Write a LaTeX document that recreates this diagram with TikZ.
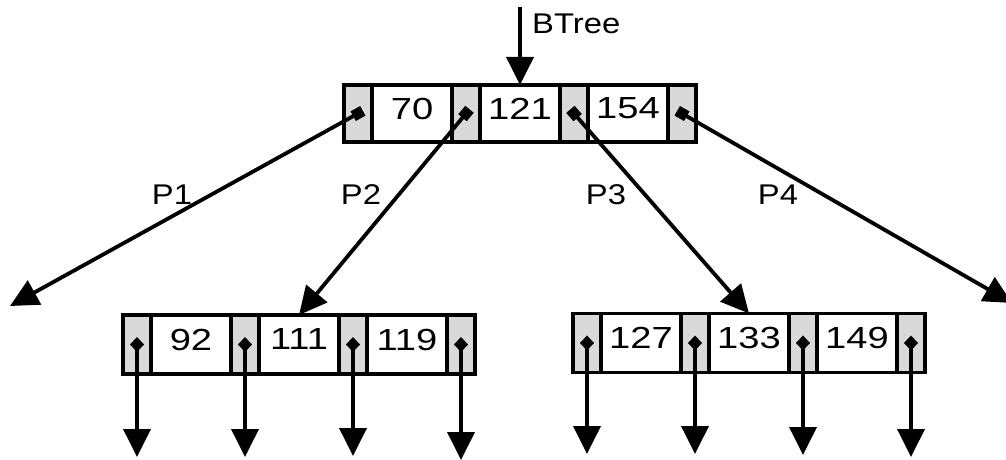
\documentclass[tikz,border=0pt]{standalone}
\usepackage{fontspec}
\setmainfont{Liberation Sans}
\newfontfamily\keyfont[FakeStretch=1.25]{Liberation Sans}
\newfontfamily\labelfont[FakeStretch=1.15]{Liberation Sans}
\usetikzlibrary{positioning,arrows.meta}
\begin{document}
\begin{tikzpicture}[x=1pt,y=-1pt,line width=3.8pt,font=\labelfont\fontsize{28.5}{34}\selectfont]
\tikzstyle{ptrcell} = [draw,fill=gray!30,minimum width=28pt,minimum height=57pt,inner sep=0pt,outer sep=0pt]
\tikzstyle{keycell} = [draw,fill=white,minimum width=80pt,minimum height=57pt,inner sep=0pt,outer sep=0pt,text depth=10pt,font=\keyfont\fontsize{30.5}{34}\selectfont]
\tikzstyle{link} = [{Square[length=11pt,width=11pt]}-{Triangle[length=28pt,width=27pt]},shorten <=-5.5pt]
\tikzstyle{leaflink} = [{Diamond[length=15pt,width=14pt]}-{Triangle[length=28pt,width=27pt]},shorten <=-7.5pt]
\useasboundingbox (0,0) rectangle (1006,460);
%noeud racine
\node[ptrcell] (tp0) at (358,113.5) {};
\node[keycell,right=0pt of tp0] (tk1) {70};
\node[ptrcell,right=0pt of tk1] (tp1) {};
\node[keycell,right=0pt of tp1] (tk2) {121};
\node[ptrcell,right=0pt of tk2] (tp2) {};
\node[keycell,right=0pt of tp2] (tk3) {154};
\node[ptrcell,right=0pt of tk3] (tp3) {};
%feuille gauche
\node[ptrcell,minimum height=59pt] (lp0) at (137,344.5) {};
\node[keycell,minimum height=59pt,right=0pt of lp0] (lk1) {92};
\node[ptrcell,minimum height=59pt,right=0pt of lk1] (lp1) {};
\node[keycell,minimum height=59pt,right=0pt of lp1] (lk2) {111};
\node[ptrcell,minimum height=59pt,right=0pt of lk2] (lp2) {};
\node[keycell,minimum height=59pt,right=0pt of lp2] (lk3) {119};
\node[ptrcell,minimum height=59pt,right=0pt of lk3] (lp3) {};
%feuille droite
\node[ptrcell,minimum height=59pt] (rp0) at (587,343) {};
\node[keycell,minimum height=59pt,right=0pt of rp0] (rk1) {127};
\node[ptrcell,minimum height=59pt,right=0pt of rk1] (rp1) {};
\node[keycell,minimum height=59pt,right=0pt of rp1] (rk2) {133};
\node[ptrcell,minimum height=59pt,right=0pt of rk2] (rp2) {};
\node[keycell,minimum height=59pt,right=0pt of rp2] (rk3) {149};
\node[ptrcell,minimum height=59pt,right=0pt of rk3] (rp3) {};
%entree
\coordinate (root) at (tk2.north |- 0,7);
\node[anchor=west] (btree) at (527,24) {BTree};
\draw[-{Triangle[length=28pt,width=27pt]}] (root)--(tk2.north);
%pointeurs du noeud racine
\coordinate (out1) at (10,306);
\coordinate (out4) at (1012,303);
\draw[link] (tp0.center)--(out1);
\draw[link] (tp1.center)--(lk2.north);
\draw[link] (tp2.center)--(rk2.north);
\draw[link] (tp3.center)--(out4);
\node (p1) at (172,195) {P1};
\node (p2) at (361,195) {P2};
\node (p3) at (606,195) {P3};
\node (p4) at (778,195) {P4};
%pointeurs des feuilles
\coordinate (lo0) at (lp0 |- 0,457);
\coordinate (lo1) at (lp1 |- 0,457);
\coordinate (lo2) at (lp2 |- 0,456);
\coordinate (lo3) at (lp3 |- 0,460);
\coordinate (ro0) at (rp0 |- 0,454);
\coordinate (ro1) at (rp1 |- 0,454);
\coordinate (ro2) at (rp2 |- 0,455);
\coordinate (ro3) at (rp3 |- 0,457);
\draw[leaflink] (lp0.center)--(lo0);
\draw[leaflink] (lp1.center)--(lo1);
\draw[leaflink] (lp2.center)--(lo2);
\draw[leaflink] (lp3.center)--(lo3);
\draw[leaflink] (rp0.center)--(ro0);
\draw[leaflink] (rp1.center)--(ro1);
\draw[leaflink] (rp2.center)--(ro2);
\draw[leaflink] (rp3.center)--(ro3);
\end{tikzpicture}
\end{document}
